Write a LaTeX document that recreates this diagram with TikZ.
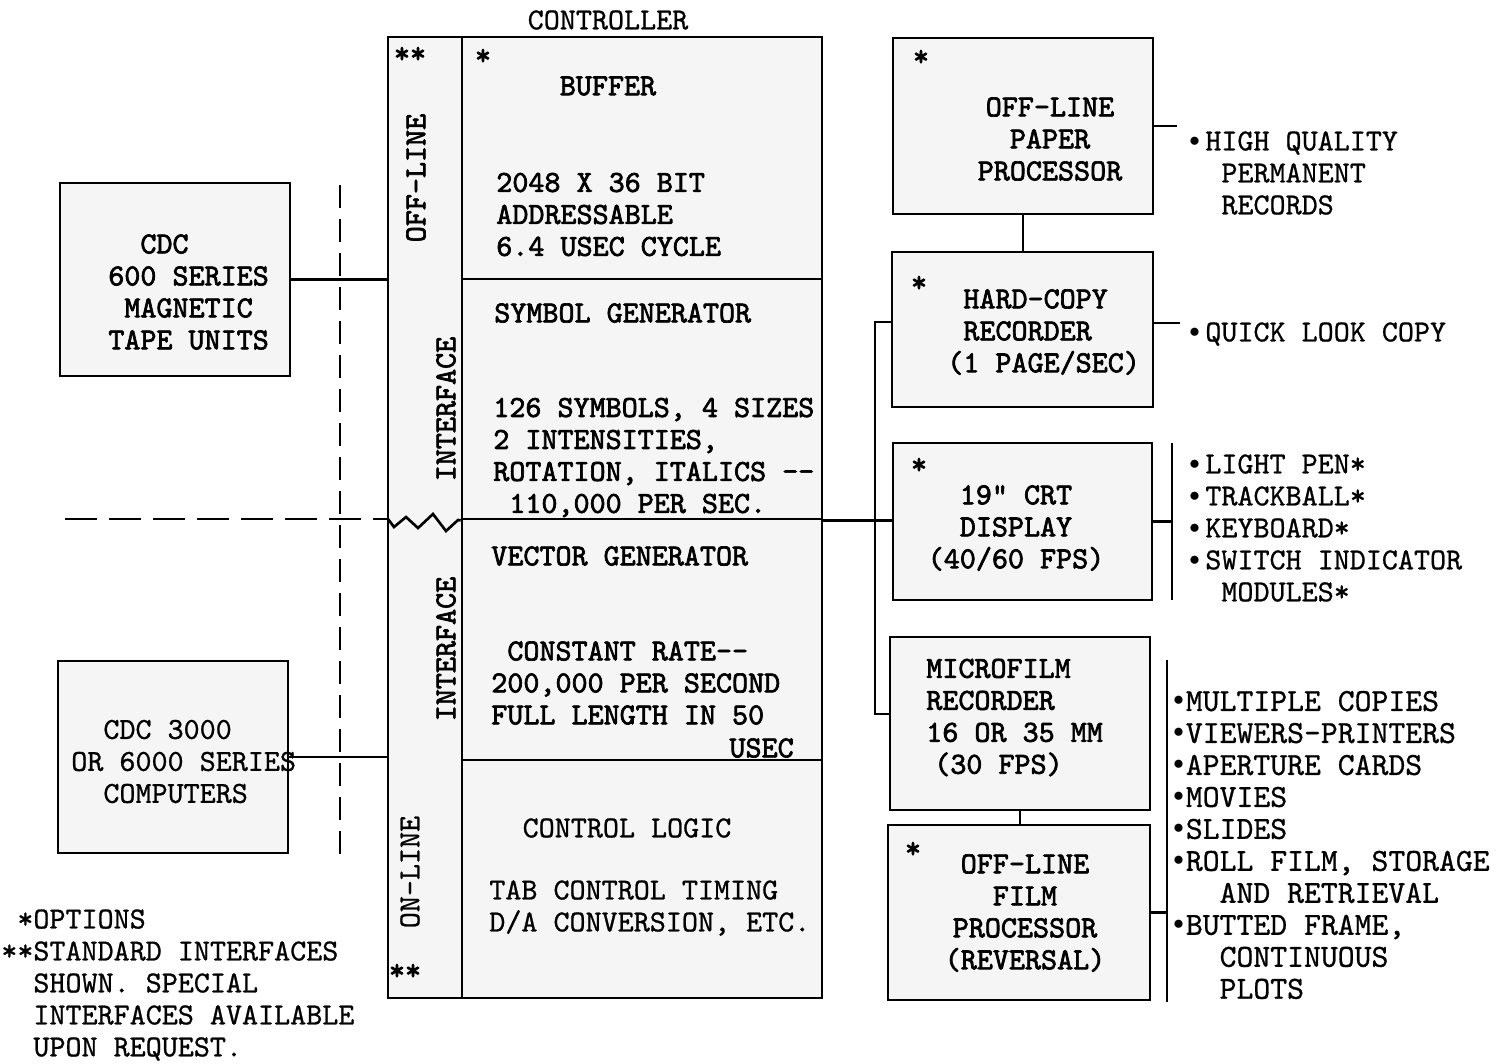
\documentclass[tikz,border=0pt]{standalone}
\usepackage{fontspec}
\newfontfamily\tw{lmmono10-regular.otf}[FakeBold=0.8]
\newfontfamily\twb{lmmono10-regular.otf}[FakeBold=2.2]
\newcommand\fsz{\fontsize{17.4}{18.2}\selectfont}
\newcommand\fszf{\fontsize{18.3}{18.2}\selectfont}
\newcommand\gap{\phantom{X}}
\newcommand\bul{\makebox[0.525em][l]{\raisebox{0.14em}{$\scriptstyle\bullet$}}}
\newcommand\bulf{\makebox[0.39em][l]{\raisebox{0.17em}{$\scriptstyle\bullet$}}}
\begin{document}
\begin{tikzpicture}[x=0.02cm,y=-0.02cm,line width=1.5pt,
  box/.style={draw,fill=gray!8,inner sep=0pt},
  t/.style={inner sep=0pt,font=\tw\fsz,align=left},
  tb/.style={inner sep=0pt,font=\twb\fsz,align=left},
  hdash/.style={dash pattern=on 0.64cm off 0.24cm},
  vdash/.style={dash pattern=on 0.46cm off 0.22cm}]
\useasboundingbox (0,0) rectangle (1505,1063);

% controller
\node[box,minimum width=1.48cm,minimum height=19.22cm] (ifc) at (425,517.5) {};
\node[box,minimum width=7.2cm,minimum height=4.84cm] (buf) at (642,158) {};
\node[box,minimum width=7.2cm,minimum height=4.8cm] (sym) at (642,399) {};
\node[box,minimum width=7.2cm,minimum height=4.82cm] (vec) at (642,639.5) {};
\node[box,minimum width=7.2cm,minimum height=4.76cm] (ctl) at (642,879) {};

% left boxes
\node[box,minimum width=4.6cm,minimum height=3.86cm] (tape) at (175,279.5) {};
\node[box,minimum width=4.6cm,minimum height=3.84cm] (comp) at (173,757) {};

% right boxes
\node[box,minimum width=5.2cm,minimum height=3.52cm] (pap) at (1023,126) {};
\node[box,minimum width=5.22cm,minimum height=3.1cm] (hc) at (1022.5,329.5) {};
\node[box,minimum width=5.18cm,minimum height=3.14cm] (crt) at (1022.5,521.5) {};
\node[box,minimum width=5.2cm,minimum height=3.46cm] (mic) at (1020,723.5) {};
\node[box,minimum width=5.24cm,minimum height=3.5cm] (film) at (1019,912.5) {};

% connectors
\draw (tape.east) -- (tape.east -| ifc.west);
\draw (comp.east) -- (comp.east -| ifc.west);
\draw (pap.south) -- (pap.south |- hc.north);
\draw (mic.south) -- (mic.south |- film.north);
\coordinate (t1) at (875,322);
\coordinate (t2) at (875,714);
\draw (hc.west |- t1) -- (t1) -- (t2) -- (mic.west |- t2);
\draw (sym.south east) -- (sym.south east -| crt.west);
\coordinate (papr) at (1177,126);
\draw (pap.east) -- (papr);
\coordinate (hcr) at (1180,323);
\draw (hcr -| hc.east) -- (hcr);
\coordinate (cb1) at (1172,443);
\coordinate (cb2) at (1172,600);
\draw (cb1) -- (cb2);
\draw (crt.east) -- (crt.east -| cb1);
\coordinate (fb1) at (1167,660);
\coordinate (fb2) at (1167,1002);
\draw (fb1) -- (fb2);
\draw (film.east) -- (film.east -| fb1);

% dashed boundaries and break
\coordinate (dv1) at (340,185);
\coordinate (dv2) at (340,857);
\draw[vdash] (dv1) -- (dv2);
\coordinate (hd) at (65,519);
\coordinate (zz) at (388,519);
\draw[hdash] (hd) -- (zz);
\draw[line join=miter] (zz) -- ++(6,8) -- ++(12,-10) -- ++(12,11) -- ++(15,-14) -- ++(13,17) -- ++(12,-11) -- (sym.south west);

% controller texts
\node[t] (ctrlT) at (608,20) {CONTROLLER};
\node[tb] (st1) at (410,55) {**};
\node[tb] (st2) at (483,57) {*};
\node[tb] (st3) at (405,972) {**};
\node[tb] (bufT) at (608,86) {BUFFER};
\node[tb,anchor=west] (bufD) at (495,214.5) {2048 X 36 BIT\\ADDRESSABLE\\6.4 USEC CYCLE};
\node[tb,rotate=90] (offl) at (416,178) {OFF-LINE};
\node[tb,rotate=90] (if1) at (446,409) {INTERFACE};
\node[tb,rotate=90] (if2) at (446,649) {INTERFACE};
\node[t,rotate=90] (onl) at (410,872) {ON-LINE};
\node[tb,anchor=west] (symT) at (493,313) {SYMBOL GENERATOR};
\node[tb,anchor=west] (symD) at (492,457.5) {126 SYMBOLS, 4 SIZES\\2 INTENSITIES,\\ROTATION, ITALICS --\\\gap 110,000 PER SEC.};
\node[tb,anchor=west] (vecT) at (490,556) {VECTOR GENERATOR};
\node[tb,anchor=west] (vecD) at (490,683) {\gap CONSTANT RATE--\\200,000 PER SECOND\\FULL LENGTH IN 50};
\node[tb,anchor=east] (usec) at (795,748) {USEC};
\node[t] (ctlT) at (627,828) {CONTROL LOGIC};
\node[t,anchor=west] (ctlD) at (488,908) {TAB CONTROL TIMING\\D/A CONVERSION, ETC.};

% left box texts
\node[tb,anchor=west] (tapeT) at (107,292) {\gap\gap CDC\\600 SERIES\\\gap MAGNETIC\\TAPE UNITS};
\node[t,anchor=west] (compT) at (70,761.5) {\gap\gap CDC 3000\\OR 6000 SERIES\\\gap\gap COMPUTERS};

% right box texts
\node[tb] (papS) at (921,58) {*};
\node[tb,align=center] (papT) at (1050,139) {OFF-LINE\\PAPER\\PROCESSOR};
\node[tb] (hcS) at (919,284) {*};
\node[tb,anchor=west] (hcT) at (946,332) {\gap HARD-COPY\\\gap RECORDER\\(1 PAGE/SEC)};
\node[tb] (crtS) at (919,466) {*};
\node[tb,align=center] (crtT) at (1016,528) {19" CRT\\DISPLAY\\(40/60 FPS)};
\node[tb,anchor=west] (micT) at (925,717.5) {MICROFILM\\RECORDER\\16 OR 35 MM\\\hspace*{0.26em}(30 FPS)};
\node[tb] (filmS) at (913,850) {*};
\node[tb,align=center] (filmT) at (1025,913) {OFF-LINE\\FILM\\PROCESSOR\\(REVERSAL)};

% lists
\node[t,anchor=west] (papL) at (1188,173) {\bul HIGH QUALITY\\\gap\gap PERMANENT\\\gap\gap RECORDS};
\node[t,anchor=west] (hcL) at (1188,334) {\bul QUICK LOOK COPY};
\node[t,anchor=west] (crtL) at (1188,528) {\bul LIGHT PEN*\\\bul TRACKBALL*\\\bul KEYBOARD*\\\bul SWITCH INDICATOR\\\gap\gap MODULES*};
\node[t,anchor=west,font=\tw\fszf] (filmL) at (1172,845) {\bulf MULTIPLE COPIES\\\bulf VIEWERS-PRINTERS\\\bulf APERTURE CARDS\\\bulf MOVIES\\\bulf SLIDES\\\bulf ROLL FILM, STORAGE\\\hspace*{0.39em}\gap\gap AND RETRIEVAL\\\bulf BUTTED FRAME,\\\hspace*{0.39em}\gap\gap CONTINUOUS\\\hspace*{0.39em}\gap\gap PLOTS};

% footnote
\node[t,anchor=west] (note) at (0,985) {\gap *OPTIONS\\**STANDARD INTERFACES\\\gap\gap SHOWN. SPECIAL\\\gap\gap INTERFACES AVAILABLE\\\gap\gap UPON REQUEST.};
\end{tikzpicture}
\end{document}
